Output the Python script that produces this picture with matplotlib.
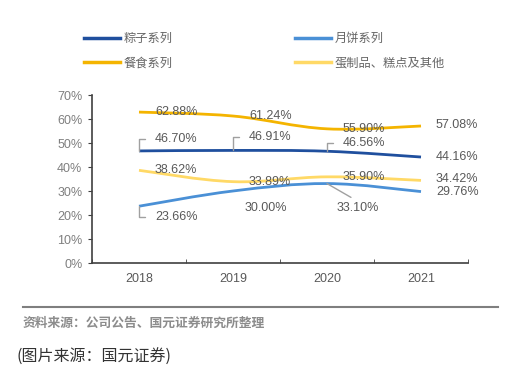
import matplotlib
matplotlib.use("Agg")
import numpy as np
from matplotlib import pyplot as plt
from matplotlib.path import Path
from matplotlib.patches import PathPatch
from matplotlib.lines import Line2D

years = ["2018", "2019", "2020", "2021"]
zongzi = [46.70, 46.91, 46.56, 44.16]
yuebing = [23.66, 30.00, 33.10, 29.76]
canshi = [62.88, 61.24, 55.90, 57.08]
danzhipin = [38.62, 33.89, 35.90, 34.42]

names = ["粽子系列", "餐食系列", "月饼系列", "蛋制品、糕点及其他"]
yticks = [0, 10, 20, 30, 40, 50, 60, 70]

CJK = ["Noto Sans CJK SC", "DejaVu Sans"]
NUM = ["Liberation Sans", "DejaVu Sans"]


def smooth_path(xs, ys, t=0.18):
    # catmull-rom style bezier through the points
    xs = np.asarray(xs, float)
    ys = np.asarray(ys, float)
    verts = [(xs[0], ys[0])]
    codes = [Path.MOVETO]
    n = len(xs)
    for i in range(n - 1):
        p0 = i - 1 if i > 0 else i
        p3 = i + 2 if i + 2 < n else i + 1
        c1 = (xs[i] + (xs[i + 1] - xs[p0]) * t, ys[i] + (ys[i + 1] - ys[p0]) * t)
        c2 = (xs[i + 1] - (xs[p3] - xs[i]) * t, ys[i + 1] - (ys[p3] - ys[i]) * t)
        verts += [c1, c2, (xs[i + 1], ys[i + 1])]
        codes += [Path.CURVE4] * 3
    return Path(verts, codes)


fig = plt.figure(figsize=(5.14, 3.76), dpi=100)
ax = fig.add_axes([92 / 514, 1 - 263 / 376, 376 / 514, 168 / 376])

x = np.arange(len(years))
series = [
    (zongzi, "#1f4f9e", names[0]),
    (canshi, "#f4b400", names[1]),
    (yuebing, "#4a90d6", names[2]),
    (danzhipin, "#ffd966", names[3]),
]
handles = []
for vals, col, name in series:
    ax.add_patch(PathPatch(smooth_path(x, vals), fill=False, edgecolor=col,
                           lw=2.0, capstyle="butt", zorder=3))
    handles.append(Line2D([], [], color=col, lw=2.5, label=name))

ax.set_xlim(-0.5, 3.5)
ax.set_ylim(0, 70)
ax.set_yticks(yticks)
ax.set_yticklabels([f"{v}%" for v in yticks])
ax.set_xticks(x)
ax.set_xticklabels(years)
ax.set_xticks([-0.5, 0.5, 1.5, 2.5, 3.5], minor=True)
ax.tick_params(axis="x", which="major", length=0, pad=7, labelsize=9, colors="#595959")
ax.tick_params(axis="x", which="minor", direction="in", length=3, color="#404040")
ax.tick_params(axis="y", direction="out", length=3, color="#404040", pad=4,
               labelsize=9, labelcolor="#7f7f7f")
for lab in ax.get_xticklabels() + ax.get_yticklabels():
    lab.set_family(NUM)
for s in ["top", "right"]:
    ax.spines[s].set_visible(False)
for s in ["left", "bottom"]:
    ax.spines[s].set_color("#404040")
    ax.spines[s].set_linewidth(1.2)

lead = "#a0a0a0"
txt = dict(fontsize=9, color="#595959", family=NUM, va="center", ha="left",
           textcoords="offset pixels", zorder=5)
elbow = dict(arrowstyle="-", color=lead, lw=1.0, relpos=(0, 0.5),
             connectionstyle="angle,angleA=0,angleB=90,rad=0", shrinkA=5, shrinkB=0)

# 粽子
for i, dy in zip(range(3), [12, 13, 8]):
    ax.annotate(f"{zongzi[i]:.2f}%", (x[i], zongzi[i]), xytext=(16, dy),
                arrowprops=elbow, **txt)
ax.annotate(f"{zongzi[3]:.2f}%", (x[3], zongzi[3]), xytext=(15, 0), **txt)

# 月饼
ax.annotate(f"{yuebing[0]:.2f}%", (x[0], yuebing[0]), xytext=(16, -11),
            arrowprops=elbow, **txt)
ax.annotate(f"{yuebing[1]:.2f}%", (x[1], yuebing[1]), xytext=(12, -17), **txt)
ax.annotate(f"{yuebing[2]:.2f}%", (x[2], yuebing[2]), xytext=(10, -24),
            arrowprops=dict(arrowstyle="-", color=lead, lw=1.0, relpos=(0.5, 1),
                            shrinkA=2, shrinkB=0), **txt)
ax.annotate(f"{yuebing[3]:.2f}%", (x[3], yuebing[3]), xytext=(15, 0), **txt)

# 餐食 and 蛋制品
for vals, dys in [(canshi, [0, 0, 0, 1]), (danzhipin, [0, 0, 0, 1])]:
    for i in range(4):
        ax.annotate(f"{vals[i]:.2f}%", (x[i], vals[i]),
                    xytext=(16 if i < 3 else 15, dys[i]), **txt)

leg = fig.legend(handles=handles, ncol=2, loc="upper left",
                 bbox_to_anchor=(78 / 514, 1 - 26 / 376), frameon=False,
                 borderpad=0, handlelength=2.9, handletextpad=0.35,
                 columnspacing=10.0, labelspacing=0.95,
                 prop={"family": CJK, "size": 8.8})
for t in leg.get_texts():
    t.set_color("#666666")

fig.add_artist(Line2D([23 / 514, 498 / 514], [1 - 307 / 376] * 2,
                      transform=fig.transFigure, color="#7f7f7f", lw=1.5))
fig.text(23 / 514, 1 - 323 / 376, "资料来源：公司公告、国元证券研究所整理",
         family=CJK, fontsize=9.2, color="#8c8c8c", va="center", ha="left",
         fontweight="bold")
fig.text(17 / 514, 1 - 357 / 376, "(图片来源：国元证券)",
         family=CJK, fontsize=11.5, color="#333333", va="center", ha="left")

fig.savefig("out.png", dpi=100)
